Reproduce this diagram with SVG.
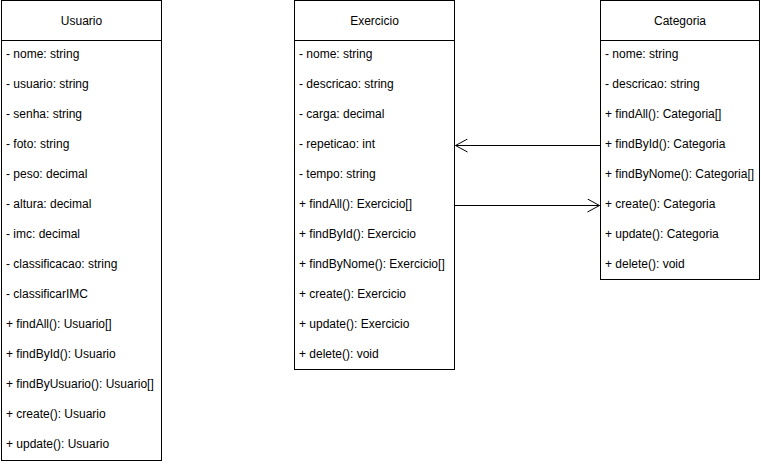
<svg xmlns="http://www.w3.org/2000/svg" width="761" height="464" viewBox="0 0 761 464">
<style>
.box{fill:#fff;stroke:#000;stroke-width:1}
.t{font-family:"Liberation Sans",Arial,sans-serif;font-size:12px;fill:#000}
.h{text-anchor:middle}
.c{fill:none;stroke:#000;stroke-width:1}
</style>
<defs>
<marker id="open" viewBox="0 0 14 14" refX="13" refY="7" markerWidth="14" markerHeight="14" markerUnits="userSpaceOnUse" orient="auto">
<path d="M1,0.5 L13,7 L1,13.5" fill="none" stroke="#000" stroke-width="1"/>
</marker>
</defs>
<rect width="761" height="464" fill="#fff"/>
<g id="Usuario">
<rect class="box" x="1.5" y="0.5" width="160" height="460"/>
<line class="c" x1="1.5" y1="40.5" x2="161.5" y2="40.5"/>
<text class="t h" x="81.5" y="24.5">Usuario</text>
<text class="t" x="6" y="57.5">- nome: string</text>
<text class="t" x="6" y="87.5">- usuario: string</text>
<text class="t" x="6" y="117.5">- senha: string</text>
<text class="t" x="6" y="147.5">- foto: string</text>
<text class="t" x="6" y="177.5">- peso: decimal</text>
<text class="t" x="6" y="207.5">- altura: decimal</text>
<text class="t" x="6" y="237.5">- imc: decimal</text>
<text class="t" x="6" y="267.5">- classificacao: string</text>
<text class="t" x="6" y="297.5">- classificarIMC</text>
<text class="t" x="6" y="327.5">+ findAll(): Usuario[]</text>
<text class="t" x="6" y="357.5">+ findById(): Usuario</text>
<text class="t" x="6" y="387.5">+ findByUsuario(): Usuario[]</text>
<text class="t" x="6" y="417.5">+ create(): Usuario</text>
<text class="t" x="6" y="447.5">+ update(): Usuario</text>
</g>
<g id="Exercicio">
<rect class="box" x="294.5" y="0.5" width="160" height="369"/>
<line class="c" x1="294.5" y1="40.5" x2="454.5" y2="40.5"/>
<text class="t h" x="374.5" y="24.5">Exercicio</text>
<text class="t" x="299" y="57.5">- nome: string</text>
<text class="t" x="299" y="87.5">- descricao: string</text>
<text class="t" x="299" y="117.5">- carga: decimal</text>
<text class="t" x="299" y="147.5">- repeticao: int</text>
<text class="t" x="299" y="177.5">- tempo: string</text>
<text class="t" x="299" y="207.5">+ findAll(): Exercicio[]</text>
<text class="t" x="299" y="237.5">+ findById(): Exercicio</text>
<text class="t" x="299" y="267.5">+ findByNome(): Exercicio[]</text>
<text class="t" x="299" y="297.5">+ create(): Exercicio</text>
<text class="t" x="299" y="327.5">+ update(): Exercicio</text>
<text class="t" x="299" y="357.5">+ delete(): void</text>
</g>
<g id="Categoria">
<rect class="box" x="600.5" y="0.5" width="159" height="279"/>
<line class="c" x1="600.5" y1="40.5" x2="759.5" y2="40.5"/>
<text class="t h" x="680" y="24.5">Categoria</text>
<text class="t" x="605" y="57.5">- nome: string</text>
<text class="t" x="605" y="87.5">- descricao: string</text>
<text class="t" x="605" y="117.5">+ findAll(): Categoria[]</text>
<text class="t" x="605" y="147.5">+ findById(): Categoria</text>
<text class="t" x="605" y="177.5">+ findByNome(): Categoria[]</text>
<text class="t" x="605" y="207.5">+ create(): Categoria</text>
<text class="t" x="605" y="237.5">+ update(): Categoria</text>
<text class="t" x="605" y="267.5">+ delete(): void</text>
</g>
<g id="connectors">
<line class="c" x1="600.5" y1="145.5" x2="455.5" y2="145.5" marker-end="url(#open)"/>
<line class="c" x1="454.5" y1="205.5" x2="599.5" y2="205.5" marker-end="url(#open)"/>
</g>
</svg>
